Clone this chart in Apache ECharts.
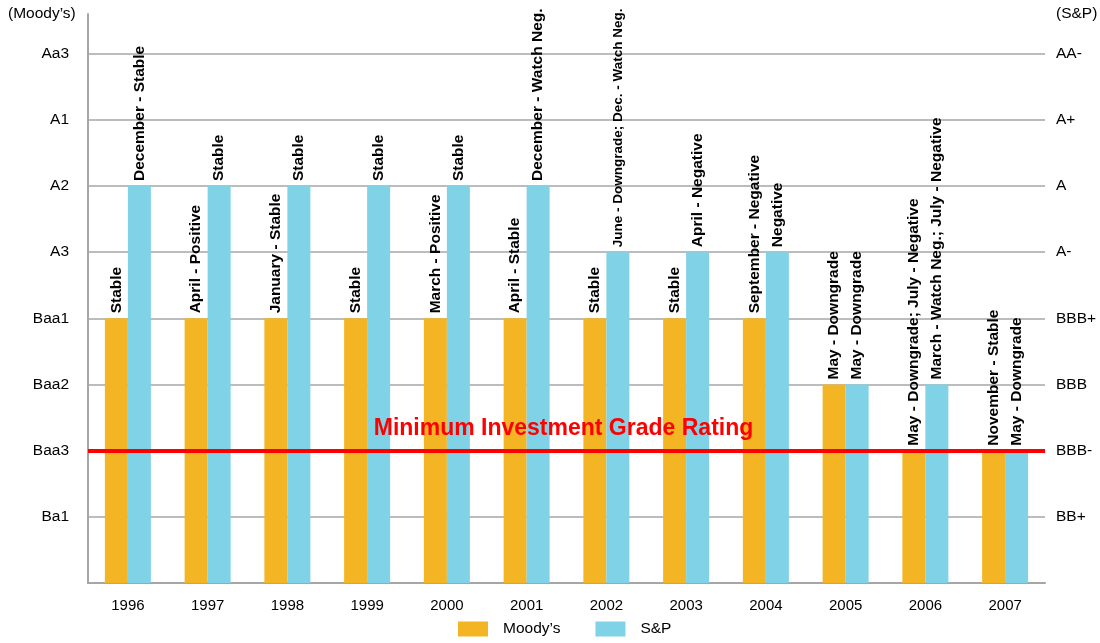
<!DOCTYPE html>
<html><head><meta charset="utf-8">
<script src="https://cdn.jsdelivr.net/npm/echarts@6/dist/echarts.min.js"></script>
<style>html,body{margin:0;padding:0;background:#fff}#c{width:1100px;height:643px}</style>
</head><body><div id="c"></div>
<script>
const years = ['1996','1997','1998','1999','2000','2001','2002','2003','2004','2005','2006','2007'];
// rating level index: 1=Ba1/BB+, 2=Baa3/BBB-, 3=Baa2/BBB, 4=Baa1/BBB+, 5=A3/A-, 6=A2/A, 7=A1/A+, 8=Aa3/AA-
const moodysTicks = ['', 'Ba1', 'Baa3', 'Baa2', 'Baa1', 'A3', 'A2', 'A1', 'Aa3'];
const spTicks = ['', 'BB+', 'BBB-', 'BBB', 'BBB+', 'A-', 'A', 'A+', 'AA-'];
const moodys = [4, 4, 4, 4, 4, 4, 4, 4, 4, 3, 2, 2];
const sp = [6, 6, 6, 6, 6, 6, 5, 5, 5, 3, 3, 2];
const moodysNotes = ['Stable','April - Positive','January - Stable','Stable','March - Positive','April - Stable','Stable','Stable','September - Negative','May - Downgrade','May - Downgrade; July - Negative','November - Stable'];
const spNotes = ['December - Stable','Stable','Stable','Stable','Stable','December - Watch Neg.','June - Downgrade; Dec. - Watch Neg.','April - Negative','Negative','May - Downgrade','March - Watch Neg.; July - Negative','May - Downgrade'];
const minGrade = 2;

const FONT = 'Liberation Sans, Arial, sans-serif';
const FS = 15.5;
const chart = echarts.init(document.getElementById('c'));
function mkData(vals, notes) {
  return vals.map((v, i) => {
    const d = { value: v };
    if (notes[i].indexOf('June - Downgrade; Dec.') === 0) d.label = { fontSize: 13.5 };
    return d;
  });
}
const labelBase = (notes) => ({
  show: true, position: 'top', rotate: 90, align: 'left', verticalAlign: 'middle',
  distance: 5, color: '#000', fontWeight: 'bold', fontSize: FS, fontFamily: FONT,
  formatter: p => notes[p.dataIndex]
});
chart.setOption({
  animation: false,
  textStyle: { fontFamily: FONT },
  grid: { left: 88, right: 55, top: 14, bottom: 60, containLabel: false },
  graphic: [
    { type: 'text', left: 8, top: 6, style: { text: '(Moody\u2019s)', fontSize: FS, fontFamily: FONT, fill: '#000' } },
    { type: 'text', left: 1056, top: 6, style: { text: '(S&P)', fontSize: FS, fontFamily: FONT, fill: '#000' } }
  ],
  legend: {
    top: 621, left: 458, padding: 0, itemWidth: 30, itemHeight: 15, itemGap: 35,
    icon: 'rect', textStyle: { fontSize: FS, fontFamily: FONT, color: '#000', padding: [0, 0, 0, 10] },
    data: ['Moody\u2019s', 'S&P']
  },
  xAxis: {
    type: 'category', data: years,
    axisLine: { lineStyle: { color: '#A6A6A6', width: 2 } },
    axisTick: { show: false },
    axisLabel: { color: '#000', fontSize: 15, margin: 15, fontFamily: FONT }
  },
  yAxis: [
    {
      type: 'value', min: 0, max: 8.6, interval: 1,
      axisLine: { show: true, lineStyle: { color: '#A6A6A6', width: 2 } },
      axisTick: { show: false },
      splitLine: { show: true, showMaxLine: false, lineStyle: { color: '#A6A6A6', width: 1.5 } },
      axisLabel: { color: '#000', fontSize: FS, margin: 19, showMaxLabel: false, fontFamily: FONT,
        formatter: v => moodysTicks[v] || '' }
    },
    {
      type: 'value', min: 0, max: 8.6, interval: 1, position: 'right',
      axisLine: { show: false }, axisTick: { show: false }, splitLine: { show: false },
      axisLabel: { color: '#000', fontSize: FS, margin: 11, showMaxLabel: false, fontFamily: FONT,
        formatter: v => spTicks[v] || '' }
    }
  ],
  series: [
    {
      name: 'Moody\u2019s', type: 'bar', barWidth: 23, barGap: '0%',
      itemStyle: { color: '#F3B523' },
      data: mkData(moodys, moodysNotes),
      label: labelBase(moodysNotes),
      markLine: {
        silent: true, symbol: 'none', z: 10,
        lineStyle: { color: '#FF0000', width: 4, type: 'solid' },
        label: { show: true, position: 'middle', formatter: 'Minimum Investment Grade Rating',
          color: '#FF0000', fontSize: 23, fontWeight: 'bold', distance: 11, offset: [-3, 0], fontFamily: FONT },
        data: [{ yAxis: minGrade }]
      }
    },
    {
      name: 'S&P', type: 'bar', barWidth: 23,
      itemStyle: { color: '#80D3E6' },
      data: mkData(sp, spNotes),
      label: labelBase(spNotes)
    }
  ]
});
</script></body></html>
